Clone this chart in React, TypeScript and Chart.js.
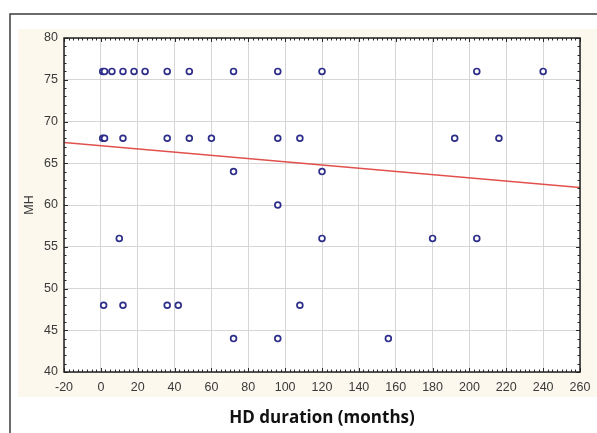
import React, { useEffect, useRef } from "react";
import { Chart, registerables } from "chart.js";

Chart.register(...registerables);

// HD duration (months) for each patient
const durationMonths: number[] = [
  1, 2, 6, 12, 18, 24, 36, 48, 72, 96, 120, 204, 240,
  1, 2, 12, 36, 48, 60, 96, 108, 192, 216,
  72, 120,
  96,
  10, 120, 180, 204,
  1.5, 12, 36, 42, 108,
  72, 96, 156,
];
// MH score for each patient
const mhScores: number[] = [
  76, 76, 76, 76, 76, 76, 76, 76, 76, 76, 76, 76, 76,
  68, 68, 68, 68, 68, 68, 68, 68, 68, 68,
  64, 64,
  60,
  56, 56, 56, 56,
  48, 48, 48, 48, 48,
  44, 44, 44,
];
// fitted regression line end points
const trendX: number[] = [-20, 260];
const trendY: number[] = [67.5, 62.1];

const xTickMin = -20;
const xTickMax = 260;
const xTickStep = 20;
const yTickMin = 40;
const yTickMax = 80;
const yTickStep = 5;

const xTitle = "HD duration (months)";
const yTitle = "MH";

const framePlugin = {
  id: "framePlugin",
  beforeDraw(chart: any) {
    const { ctx, chartArea: a } = chart;
    ctx.save();
    ctx.fillStyle = "#fcf8ee";
    ctx.fillRect(18, 29, chart.width - 18, 397 - 29);
    ctx.fillStyle = "#ffffff";
    ctx.fillRect(a.left, a.top, a.right - a.left, a.bottom - a.top);
    ctx.strokeStyle = "#3c3c3c";
    ctx.lineWidth = 1.5;
    ctx.beginPath();
    ctx.moveTo(10, chart.height);
    ctx.lineTo(10, 14);
    ctx.lineTo(chart.width, 14);
    ctx.stroke();
    ctx.restore();
  },
  afterDraw(chart: any) {
    const { ctx, chartArea: a } = chart;
    const xs = chart.scales.x;
    const ys = chart.scales.y;
    ctx.save();
    ctx.strokeStyle = "#2a2a2a";
    ctx.lineWidth = 1;
    ctx.beginPath();
    for (let v = xs.min; v <= xs.max + 1e-9; v += 2.5) {
      const px = Math.round(xs.getPixelForValue(v)) + 0.5;
      const major = Math.abs(v / xTickStep - Math.round(v / xTickStep)) < 1e-6;
      const len = major ? 4 : 2.5;
      ctx.moveTo(px, a.bottom);
      ctx.lineTo(px, a.bottom - len);
      ctx.moveTo(px, a.top);
      ctx.lineTo(px, a.top + len);
    }
    for (let v = ys.min; v <= ys.max + 1e-9; v += 1) {
      const py = Math.round(ys.getPixelForValue(v)) + 0.5;
      const major = Math.abs(v / yTickStep - Math.round(v / yTickStep)) < 1e-6;
      const len = major ? 4 : 2.5;
      ctx.moveTo(a.left, py);
      ctx.lineTo(a.left + len, py);
      ctx.moveTo(a.right, py);
      ctx.lineTo(a.right - len, py);
    }
    ctx.stroke();
    ctx.lineWidth = 1.5;
    ctx.strokeStyle = "#222222";
    ctx.strokeRect(a.left, a.top, a.right - a.left, a.bottom - a.top);
    ctx.restore();
  },
};

export default function App() {
  const ref = useRef<HTMLCanvasElement | null>(null);

  useEffect(() => {
    if (!ref.current) return;
    const points = durationMonths.map((x, i) => ({ x, y: mhScores[i] }));
    const trend = trendX.map((x, i) => ({ x, y: trendY[i] }));
    const tickFont = { family: "'Liberation Sans', Arial, sans-serif", size: 12.5 };
    const chart = new Chart(ref.current, {
      type: "scatter",
      data: {
        datasets: [
          {
            label: "trend",
            data: trend,
            showLine: true,
            borderColor: "#e0504c",
            borderWidth: 1.5,
            pointRadius: 0,
            fill: false,
            order: 2,
          } as any,
          {
            label: "MH",
            data: points,
            pointStyle: "circle",
            pointRadius: 2.9,
            borderWidth: 1.7,
            borderColor: "#2d2d8a",
            backgroundColor: "#ffffff",
            order: 1,
          },
        ],
      },
      options: {
        animation: false,
        responsive: false,
        events: [],
        layout: { padding: { left: 0, top: 38, right: 17, bottom: 0 } },
        plugins: {
          legend: { display: false },
          tooltip: { enabled: false },
        },
        scales: {
          x: {
            type: "linear",
            min: xTickMin,
            max: xTickMax,
            ticks: {
              stepSize: xTickStep,
              font: tickFont,
              color: "#3a3a3a",
              padding: 8,
              maxRotation: 0,
            },
            grid: { color: "#d6d6d6", lineWidth: 1, drawTicks: false },
            border: { display: false },
            title: {
              display: true,
              text: xTitle,
              color: "#111111",
              font: { family: "'Open Sans', sans-serif", weight: "bold", size: 17 },
              padding: { top: 0, bottom: 5 },
            },
            afterFit: (s: any) => {
              s.height = 61;
              s.paddingLeft = 0;
              s.paddingRight = 0;
            },
          },
          y: {
            type: "linear",
            min: yTickMin,
            max: yTickMax,
            ticks: {
              stepSize: yTickStep,
              font: tickFont,
              color: "#3a3a3a",
              padding: 6,
            },
            grid: { color: "#d6d6d6", lineWidth: 1, drawTicks: false },
            border: { display: false },
            title: {
              display: true,
              text: yTitle,
              color: "#3a3a3a",
              font: tickFont,
              padding: { top: 22, bottom: 0 },
            },
            afterFit: (s: any) => {
              s.width = 64;
              s.paddingTop = 0;
              s.paddingBottom = 0;
            },
          },
        },
      },
      plugins: [framePlugin],
    });
    return () => chart.destroy();
  }, []);

  return (
    <div style={{ position: "absolute", left: 0, top: 0, width: 597, height: 433, background: "#ffffff" }}>
      <canvas ref={ref} width={597} height={433} style={{ display: "block" }} />
    </div>
  );
}
